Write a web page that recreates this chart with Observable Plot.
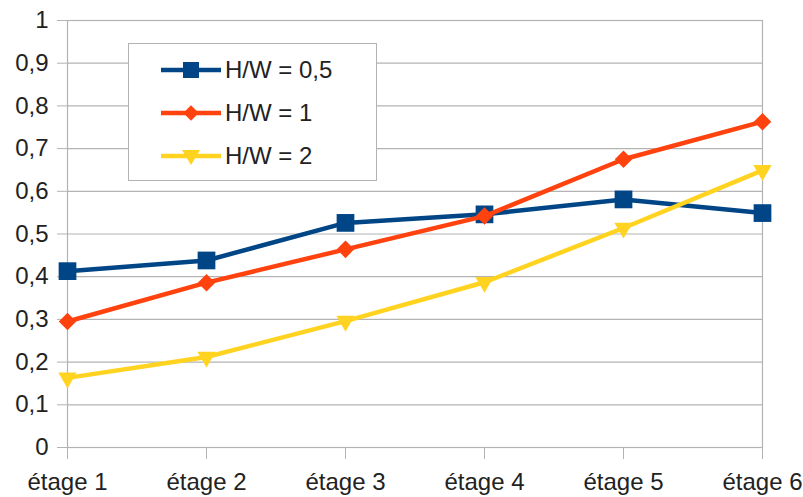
<!DOCTYPE html>
<html>
<head>
<meta charset="utf-8">
<script src="https://cdn.jsdelivr.net/npm/d3@7"></script>
<script src="https://cdn.jsdelivr.net/npm/@observablehq/plot@0.6"></script>
<style>
  body { margin: 0; background: #fff; }
  #wrap { position: relative; width: 803px; height: 497px; overflow: hidden; font-family: "Liberation Sans", Arial, sans-serif; }
  #legend { position: absolute; left: 128px; top: 43px; width: 247px; height: 136px; border: 1px solid #b3b3b3; background: #fff; }
  .row { position: absolute; left: 0; height: 30px; display: flex; align-items: center; }
  .row span { font-size: 24px; color: #222; margin-left: 4px; }
</style>
</head>
<body>
<div id="wrap"></div>
<script>
const categories = ["étage 1", "étage 2", "étage 3", "étage 4", "étage 5", "étage 6"];
const seriesNames = ["H/W = 0,5", "H/W = 1", "H/W = 2"];
const hw05 = [0.413, 0.438, 0.526, 0.546, 0.581, 0.549];
const hw1 = [0.295, 0.386, 0.464, 0.542, 0.675, 0.763];
const hw2 = [0.163, 0.212, 0.296, 0.387, 0.514, 0.649];
const yTicks = [0, 0.1, 0.2, 0.3, 0.4, 0.5, 0.6, 0.7, 0.8, 0.9, 1];
const colors = ["#004586", "#ff420e", "#ffd320"];
const symbols = ["square", "square", "triangle"];
const rotations = [0, 45, 180];
const radii = [10, 7, 6.8];

const seriesValues = [hw05, hw1, hw2];
const data = seriesValues.flatMap((vals, s) => vals.map((v, i) => ({cat: categories[i], v, s: seriesNames[s]})));

const fmt = d => String(d).replace(".", ",");

const marks = [
  Plot.ruleY(yTicks, {stroke: "#b3b3b3", strokeWidth: 1.2}),
  Plot.frame({stroke: "#b3b3b3", strokeWidth: 1.2}),
  Plot.axisY({ticks: yTicks, tickFormat: fmt, tickSize: 10, tickPadding: 9, stroke: "#b3b3b3", fontSize: 24, label: null}),
  Plot.axisX({tickSize: 12, tickPadding: 13, stroke: "#b3b3b3", fontSize: 24, label: null}),
];
seriesNames.forEach((name, s) => {
  const d = data.filter(r => r.s === name);
  marks.push(Plot.line(d, {x: "cat", y: "v", stroke: colors[s], strokeWidth: 4.5}));
  marks.push(Plot.dot(d, {x: "cat", y: "v", fill: colors[s], stroke: "none", symbol: symbols[s], r: radii[s], rotate: rotations[s]}));
});

const chart = Plot.plot({
  width: 803,
  height: 497,
  marginLeft: 67,
  marginRight: 41,
  marginTop: 20,
  marginBottom: 50,
  style: {fontFamily: "Liberation Sans, Arial, sans-serif", color: "#222", background: "#fff", overflow: "visible"},
  x: {type: "point", domain: categories, padding: 0, label: null},
  y: {domain: [0, 1], label: null},
  marks
});
const wrap = document.getElementById("wrap");
wrap.appendChild(chart);

// Legend
const legend = document.createElement("div");
legend.id = "legend";
const rowCenters = [26, 69, 112];
seriesNames.forEach((name, s) => {
  const row = document.createElement("div");
  row.className = "row";
  row.style.top = (rowCenters[s] - 15) + "px";
  const sym = s === 0 ? '<rect x="22" y="7" width="16" height="16"/>'
    : s === 1 ? '<rect x="24.5" y="9.5" width="11" height="11" transform="rotate(45 30 15)"/>'
    : '<path d="M21,9 L39,9 L30,24 Z"/>';
  row.innerHTML = `<svg width="92" height="30"></svg><span>${name}</span>`;
  const svg = row.querySelector("svg");
  svg.innerHTML = `<line x1="32" x2="92" y1="15" y2="15" stroke="${colors[s]}" stroke-width="4.5"/><g fill="${colors[s]}" transform="translate(32,0)">${sym}</g>`;
  legend.appendChild(row);
});
wrap.appendChild(legend);
</script>
</body>
</html>
